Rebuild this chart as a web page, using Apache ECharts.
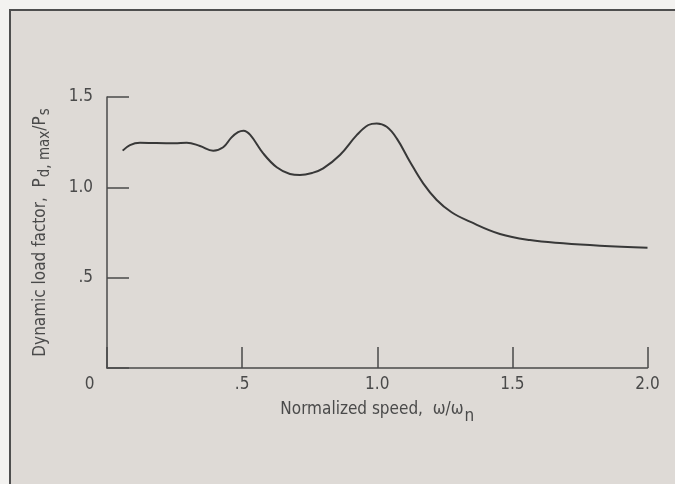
<!DOCTYPE html>
<html>
<head>
<meta charset="utf-8">
<script src="https://cdn.jsdelivr.net/npm/echarts@6/dist/echarts.min.js"></script>
<style>
  html, body { margin: 0; padding: 0; background: #f3f2f0; }
  #chart { width: 675px; height: 484px; }
</style>
</head>
<body>
<div id="chart"></div>
<script>
// normalized speed w/wn and dynamic load factor
const speedRatio = [0.058, 0.085, 0.122, 0.18, 0.25, 0.295, 0.344, 0.393, 0.43, 0.46,
  0.485, 0.505, 0.53, 0.578, 0.628, 0.677, 0.714, 0.76, 0.80, 0.862, 0.924,
  0.967, 0.998, 1.035, 1.072, 1.121, 1.170, 1.220, 1.275, 1.343, 1.454,
  1.565, 1.688, 1.824, 2.0];
const loadFactor = [1.203, 1.234, 1.247, 1.245, 1.244, 1.247, 1.229, 1.203, 1.222, 1.275,
  1.305, 1.313, 1.290, 1.188, 1.111, 1.074, 1.068, 1.080, 1.105, 1.179, 1.289,
  1.345, 1.354, 1.335, 1.271, 1.142, 1.022, 0.930, 0.862, 0.810, 0.742,
  0.708, 0.690, 0.677, 0.666];

const xTickLabels = {0: '0', 0.5: '.5', 1: '1.0', 1.5: '1.5', 2: '2.0'};
const yTickLabels = {0: '', 0.5: '.5', 1: '1.0', 1.5: '1.5'};

const font = "'Liberation Sans Narrow', 'DejaVu Sans Condensed', sans-serif";
const ink = '#4a4a4a';

let myChart = echarts.init(document.getElementById('chart'));

let points = speedRatio.map((x, i) => [x, loadFactor[i]]);

let option = {
  backgroundColor: '#f3f2f0',
  animation: false,
  graphic: [
    {
      type: 'rect',
      z: -10,
      silent: true,
      shape: {x: 10, y: 10, width: 690, height: 500},
      style: {fill: '#dedad6', stroke: '#4e4e4e', lineWidth: 2}
    }
  ],
  grid: {left: 107, right: 27.5, top: 97, bottom: 116},
  xAxis: {
    type: 'value',
    min: 0, max: 2, interval: 0.5,
    splitLine: {show: false},
    axisLine: {lineStyle: {color: ink, width: 1.5}},
    axisTick: {inside: true, length: 21, lineStyle: {color: ink, width: 1.5}},
    axisLabel: {
      margin: 8,
      fontFamily: font, fontSize: 17, color: ink,
      formatter: v => v === 0 ? '{z|0}' : xTickLabels[v],
      rich: {z: {fontFamily: font, fontSize: 17, color: ink, padding: [0, 35, 0, 0]}}
    },
    name: '{a|Normalized speed,  ω/ω}{s|n}',
    nameLocation: 'middle',
    nameGap: 26,
    nameTextStyle: {
      rich: {
        a: {fontFamily: font, fontSize: 17, color: ink},
        s: {fontFamily: font, fontSize: 17, color: ink, padding: [14, 0, 0, 1]}
      }
    }
  },
  yAxis: {
    type: 'value',
    min: 0, max: 1.5, interval: 0.5,
    splitLine: {show: false},
    axisLine: {lineStyle: {color: ink, width: 1.5}},
    axisTick: {inside: true, length: 22, lineStyle: {color: ink, width: 1.5}},
    axisLabel: {
      margin: 14,
      fontFamily: font, fontSize: 17, color: ink,
      formatter: v => yTickLabels[v]
    },
    name: '{a|Dynamic load factor,  P}{s|d, max}{a|/P}{s|s}',
    nameLocation: 'middle',
    nameRotate: 90,
    nameGap: 54,
    nameTextStyle: {
      rich: {
        a: {fontFamily: font, fontSize: 17, color: ink},
        s: {fontFamily: font, fontSize: 15, color: ink, padding: [10, 0, 0, 1]}
      }
    }
  },
  series: [
    {
      type: 'line',
      data: points,
      smooth: 0.4,
      showSymbol: false,
      lineStyle: {color: '#383838', width: 2}
    }
  ]
};
myChart.setOption(option);
</script>
</body>
</html>
